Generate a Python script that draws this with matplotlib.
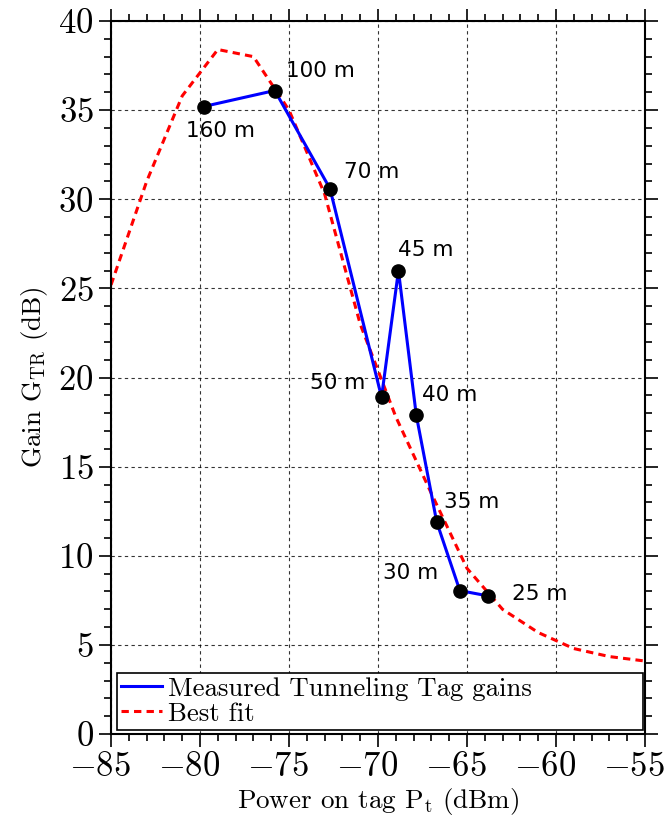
import numpy as np
import matplotlib.pyplot as plt
import matplotlib.transforms as mtrans
from matplotlib.ticker import MultipleLocator

plt.rcParams['font.family'] = 'cmr10'
plt.rcParams['mathtext.fontset'] = 'cm'
plt.rcParams['axes.formatter.use_mathtext'] = True

# measured points
power = [-79.8, -75.8, -72.7, -69.8, -68.85, -67.85, -66.7, -65.4, -63.8]
gain = [35.2, 36.1, 30.6, 18.9, 26.0, 17.9, 11.9, 8.05, 7.75]
dist = ['160 m', '100 m', '70 m', '50 m', '45 m', '40 m', '35 m', '30 m', '25 m']

# best fit (sampled every 2 dBm)
fit_p = [-85, -83, -81, -79, -77, -75, -73, -71, -69, -67, -65, -63, -61, -59, -57, -55]
fit_g = [25.2, 31.0, 35.8, 38.4, 38.0, 35.0, 30.3, 23.0, 17.8, 13.5, 9.3, 7.0, 5.7, 4.8, 4.35, 4.1]

# label offsets in pixels (dx, dy, ha)
offs = [(-18, -24, 'left'), (11, 20, 'left'), (14, 17, 'left'), (-16, 14, 'right'),
        (0, 21, 'left'), (6, 20, 'left'), (7, 20, 'left'), (-22, 18, 'right'),
        (24, 2, 'left')]

fig = plt.figure(figsize=(6.69, 8.23), dpi=100)
ax = fig.add_axes([0.166, 0.108, 0.798, 0.8665])

ax.plot(power, gain, color='blue', lw=2.2, label='Measured Tunneling Tag gains', zorder=3)
ax.plot(fit_p, fit_g, color='red', lw=2.2, ls=(0, (2.4, 1.7)), label='Best fit', zorder=2)
ax.plot(power, gain, 'o', color='black', ms=9.5, zorder=4)

for p, g, d, (dx, dy, ha) in zip(power, gain, dist, offs):
    ax.annotate(d, (p, g), xytext=(dx, dy), textcoords='offset pixels',
                ha=ha, va='center', fontsize=15.5, family='DejaVu Sans')

ax.set_xlim(-85, -55)
ax.set_ylim(0, 40)
ax.xaxis.set_major_locator(MultipleLocator(5))
ax.xaxis.set_minor_locator(MultipleLocator(1))
ax.yaxis.set_major_locator(MultipleLocator(5))
ax.yaxis.set_minor_locator(MultipleLocator(1))
ax.tick_params(which='both', direction='out', top=True, right=True, labelsize=25, width=1.2)
ax.tick_params(which='major', length=9)
ax.tick_params(which='minor', length=5)
for s in ax.spines.values():
    s.set_linewidth(1.5)
ax.grid(True, which='major', color='black', ls=(0, (3, 3)), lw=0.8, alpha=0.8)

# digits centred on the tick, minus sign hanging to the left
shift = mtrans.ScaledTranslation(-11 / 100, 0, fig.dpi_scale_trans)
for lab in ax.xaxis.get_majorticklabels():
    lab.set_transform(lab.get_transform() + shift)

ax.set_xlabel(r'Power on tag P$_\mathrm{t}$ (dBm)', fontsize=19.5, labelpad=2)
ax.set_ylabel(r'Gain G$_\mathrm{TR}$ (dB)', fontsize=19.5, labelpad=6)

leg = ax.legend(loc='lower left', bbox_to_anchor=(0.011, 0.006, 0.985, 0.09), mode='expand',
                fontsize=19.3, fancybox=False, edgecolor='black', framealpha=1,
                handlelength=1.55, borderpad=0.15, labelspacing=0.05, handletextpad=0.2,
                borderaxespad=0)
leg.get_frame().set_linewidth(1.2)

fig.savefig('out.png', dpi=100)
